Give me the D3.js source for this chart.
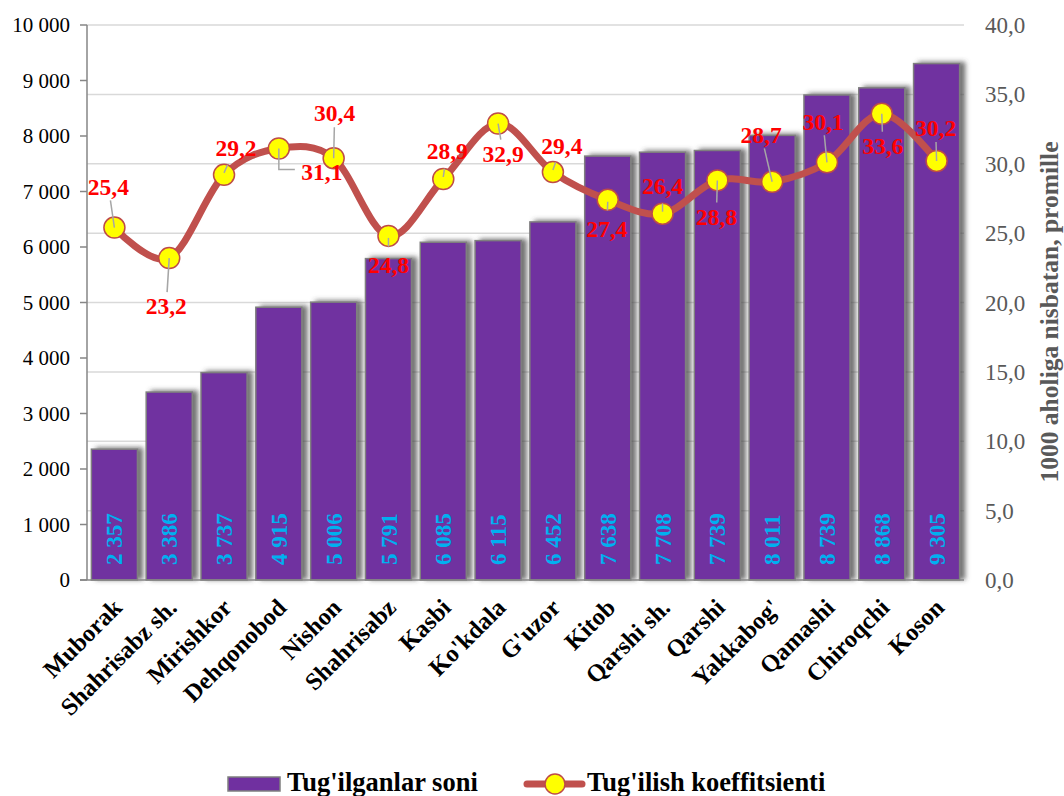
<!DOCTYPE html>
<html>
  <head>
    <meta charset="utf-8">
    <title>Tug'ilganlar soni</title>
    <script src="https://d3js.org/d3.v7.min.js"></script>
    <style>
      body { margin: 0; background: #fff; }
      svg { display: block; font-family: "Liberation Serif", "Times New Roman", serif; }
    </style>
  </head>
  <body>
    <div id="chart"></div>
    <script>
      // data
      const districts = ["Muborak", "Shahrisabz sh.", "Mirishkor", "Dehqonobod", "Nishon", "Shahrisabz",
        "Kasbi", "Ko'kdala", "G'uzor", "Kitob", "Qarshi sh.", "Qarshi", "Yakkabog'", "Qamashi", "Chiroqchi", "Koson"];
      const births = [2357, 3386, 3737, 4915, 5006, 5791, 6085, 6115, 6452, 7638, 7708, 7739, 8011, 8739, 8868, 9305];
      const birthRate = [25.4, 23.2, 29.2, 31.1, 30.4, 24.8, 28.9, 32.9, 29.4, 27.4, 26.4, 28.8, 28.7, 30.1, 33.6, 30.2];
      const leftTicks = [0, 1000, 2000, 3000, 4000, 5000, 6000, 7000, 8000, 9000, 10000];
      const rightTicks = [0, 5, 10, 15, 20, 25, 30, 35, 40];
      const seriesNames = ["Tug'ilganlar soni", "Tug'ilish koeffitsienti"];
      const rightTitle = "1000 aholiga nisbatan, promille";

      // label placement (pixel nudges from each point)
      const labelNudge = [[-6, -41], [-3, 48], [12, -27], [43, 23], [1, -45], [0, 29], [4, -28], [5, 30],
        [9, -26], [-1, 29], [0, -28], [-1, 36], [-11, -47], [-4, -41], [1, 32], [-1, -33]];

      const W = 1064, H = 796;
      const m = { left: 87, right: 964, top: 25, bottom: 580 };

      const svg = d3.select("#chart").append("svg")
        .attr("width", W).attr("height", H);

      const defs = svg.append("defs");
      const f = defs.append("filter").attr("id", "shadow")
        .attr("x", "-20%").attr("y", "-5%").attr("width", "150%").attr("height", "110%");
      f.append("feDropShadow").attr("dx", 5).attr("dy", -1).attr("stdDeviation", 2.5)
        .attr("flood-color", "#444").attr("flood-opacity", 0.75);

      // scales
      const x = d3.scaleBand().domain(districts).range([m.left, m.right]).paddingInner(0.16).paddingOuter(0.08);
      const yL = d3.scaleLinear().domain([0, 10000]).range([m.bottom, m.top]);
      const yR = d3.scaleLinear().domain([0, 40]).range([m.bottom, m.top]);
      const cx = d => x(d) + x.bandwidth() / 2;

      // gridlines from right axis
      svg.append("g").selectAll("line")
        .data(rightTicks.filter(d => d > 0))
        .join("line")
          .attr("x1", m.left).attr("x2", m.right)
          .attr("y1", d => yR(d)).attr("y2", d => yR(d))
          .attr("stroke", "#D9D9D9").attr("stroke-width", 1.5);

      // bars
      svg.append("g").selectAll("rect")
        .data(births)
        .join("rect")
          .attr("x", (d, i) => x(districts[i]))
          .attr("y", d => yL(d))
          .attr("width", x.bandwidth())
          .attr("height", d => yL(0) - yL(d))
          .attr("fill", "#7030A0")
          .attr("stroke", "#7F7F7F")
          .attr("stroke-width", 1.5)
          .attr("filter", "url(#shadow)");

      // bar values
      svg.append("g").selectAll("text")
        .data(births)
        .join("text")
          .attr("transform", (d, i) => "translate(" + cx(districts[i]) + "," + (m.bottom - 15) + ") rotate(-90)")
          .attr("dy", "0.35em")
          .attr("fill", "#00B0F0")
          .attr("font-weight", "bold")
          .attr("font-size", 23)
          .text(d => d3.format(",")(d).replace(/,/g, " "));

      // left axis
      const gl = svg.append("g");
      gl.append("line").attr("x1", m.left).attr("x2", m.left).attr("y1", m.top).attr("y2", m.bottom)
        .attr("stroke", "#868686").attr("stroke-width", 1.5);
      gl.selectAll(".tk").data(leftTicks).join("line")
        .attr("x1", m.left - 7).attr("x2", m.left)
        .attr("y1", d => yL(d)).attr("y2", d => yL(d))
        .attr("stroke", "#868686").attr("stroke-width", 1.5);
      gl.selectAll("text").data(leftTicks).join("text")
        .attr("x", 70).attr("y", d => yL(d)).attr("dy", "0.35em")
        .attr("text-anchor", "end").attr("font-size", 21).attr("fill", "#000")
        .text(d => d3.format(",")(d).replace(/,/g, " "));

      // bottom axis
      svg.append("line").attr("x1", m.left - 7).attr("x2", m.right).attr("y1", m.bottom).attr("y2", m.bottom)
        .attr("stroke", "#868686").attr("stroke-width", 1.5);

      // right axis labels
      svg.append("g").selectAll("text").data(rightTicks).join("text")
        .attr("x", 985).attr("y", d => yR(d)).attr("dy", "0.35em")
        .attr("font-size", 23).attr("fill", "#595959")
        .text(d => d3.format(".1f")(d).replace(".", ","));
      svg.append("text")
        .attr("transform", "translate(1058," + 312 + ") rotate(-90)")
        .attr("text-anchor", "middle")
        .attr("font-size", 25.5).attr("font-weight", "bold").attr("fill", "#595959")
        .text(rightTitle);

      // x labels
      svg.append("g").selectAll("text").data(districts).join("text")
        .attr("transform", d => "translate(" + (cx(d) + 3) + ",603) rotate(-45)")
        .attr("dy", "0.35em")
        .attr("text-anchor", "end")
        .attr("font-size", 24.5).attr("font-weight", "bold").attr("fill", "#000")
        .text(d => d);

      // rate line
      const line = d3.line()
        .x((d, i) => cx(districts[i]))
        .y(d => yR(d))
        .curve(d3.curveCardinal.tension(0));
      svg.append("path").datum(birthRate)
        .attr("d", line)
        .attr("fill", "none").attr("stroke", "#C0504D").attr("stroke-width", 7)
        .attr("stroke-linecap", "round");

      svg.append("g").selectAll("circle").data(birthRate).join("circle")
        .attr("cx", (d, i) => cx(districts[i]))
        .attr("cy", d => yR(d))
        .attr("r", 10.5)
        .attr("fill", "#FFFF00").attr("stroke", "#BE4B48").attr("stroke-width", 1.5);

      // leader lines
      svg.append("g").selectAll("path").data(birthRate).join("path")
        .attr("d", (d, i) => {
          const px = cx(districts[i]), py = yR(d);
          const [dx, dy] = labelNudge[i];
          const dist = Math.hypot(dx, dy);
          if (Math.abs(dx) > 30) {
            return "M" + px + "," + py + "V" + (py + dy - 2) + "H" + (px + dx - 27);
          }
          if (dist < 30) return "M" + px + "," + (py + Math.sign(dy) * 2) + "l" + (dx * 0.3) + "," + (dy * 0.3);
          const k = (dist - 14) / dist;
          return "M" + px + "," + py + "l" + (dx * k) + "," + (dy * k);
        })
        .attr("fill", "none").attr("stroke", "#A6A6A6").attr("stroke-width", 1.5);

      // rate labels
      svg.append("g").selectAll("text").data(birthRate).join("text")
        .attr("x", (d, i) => cx(districts[i]) + labelNudge[i][0])
        .attr("y", (d, i) => yR(d) + labelNudge[i][1])
        .attr("dy", "0.35em")
        .attr("text-anchor", "middle")
        .attr("font-size", 23.5).attr("font-weight", "bold").attr("fill", "#FF0000")
        .text(d => d3.format(".1f")(d).replace(".", ","));

      // legend
      const lg = svg.append("g");
      lg.append("rect").attr("x", 228).attr("y", 777).attr("width", 52).attr("height", 14)
        .attr("fill", "#7030A0").attr("stroke", "#7F7F7F").attr("stroke-width", 1.5);
      lg.append("text").attr("x", 287).attr("y", 791)
        .attr("font-size", 26.5).attr("font-weight", "bold").text(seriesNames[0]);
      lg.append("line").attr("x1", 527).attr("x2", 582).attr("y1", 784).attr("y2", 784)
        .attr("stroke", "#C0504D").attr("stroke-width", 7).attr("stroke-linecap", "round");
      lg.append("circle").attr("cx", 555).attr("cy", 784).attr("r", 10)
        .attr("fill", "#FFFF00").attr("stroke", "#BE4B48").attr("stroke-width", 1.5);
      lg.append("text").attr("x", 587).attr("y", 791)
        .attr("font-size", 26.5).attr("font-weight", "bold").text(seriesNames[1]);
    </script>
  </body>
</html>
